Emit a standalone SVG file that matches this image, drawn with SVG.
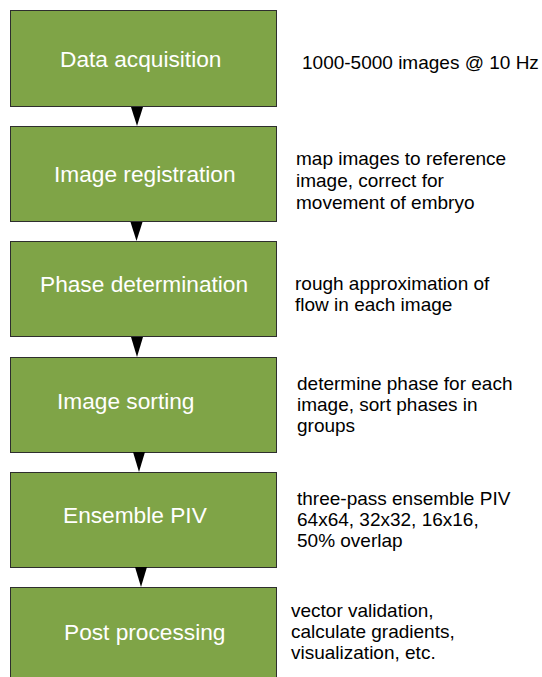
<svg xmlns="http://www.w3.org/2000/svg" width="542" height="677" viewBox="0 0 542 677">
<style>
.box{fill:#7fa447;stroke:#2e2e2e;stroke-width:1}
.lbl{font-family:"Liberation Sans",Arial,sans-serif;font-size:22.7px;fill:#ffffff}
.note{font-family:"Liberation Sans",Arial,sans-serif;font-size:19px;fill:#000000}
.conn polygon{fill:#000}
</style>
<rect width="542" height="677" fill="#ffffff"/>
<g id="n1"><rect class="box" x="10.5" y="10.5" width="266" height="96"/><text class="lbl" x="60" y="67">Data acquisition</text></g>
<g id="n2"><rect class="box" x="10.5" y="126.5" width="266" height="95"/><text class="lbl" x="54" y="182">Image registration</text></g>
<g id="n3"><rect class="box" x="10.5" y="241.5" width="266" height="95"/><text class="lbl" x="40" y="292">Phase determination</text></g>
<g id="n4"><rect class="box" x="10.5" y="357.5" width="266" height="95"/><text class="lbl" x="57" y="409">Image sorting</text></g>
<g id="n5"><rect class="box" x="10.5" y="472.5" width="266" height="95"/><text class="lbl" x="63" y="523">Ensemble PIV</text></g>
<g id="n6"><rect class="box" x="10.5" y="587.5" width="266" height="100"/><text class="lbl" x="64" y="640">Post processing</text></g>
<g id="notes">
<text class="note" x="302" y="69">1000-5000 images @ 10 Hz</text>
<text class="note" x="296" y="165">map images to reference</text>
<text class="note" x="296" y="187">image, correct for</text>
<text class="note" x="296" y="209">movement of embryo</text>
<text class="note" x="295" y="290">rough approximation of</text>
<text class="note" x="295" y="311">flow in each image</text>
<text class="note" x="297" y="390">determine phase for each</text>
<text class="note" x="297" y="411">image, sort phases in</text>
<text class="note" x="297" y="432">groups</text>
<text class="note" x="297" y="505">three-pass ensemble PIV</text>
<text class="note" x="297" y="526">64x64, 32x32, 16x16,</text>
<text class="note" x="297" y="547">50% overlap</text>
<text class="note" x="291" y="617">vector validation,</text>
<text class="note" x="291" y="638">calculate gradients,</text>
<text class="note" x="291" y="659">visualization, etc.</text>
</g>
<g id="connectors" class="conn">
<polygon points="131,107 143,107 137,126"/>
<polygon points="130.5,222 142.5,222 136.5,241"/>
<polygon points="131,337 143,337 137,357"/>
<polygon points="133,452 145,452 139,472"/>
<polygon points="135,567 147,567 141,587"/>
</g>
</svg>
